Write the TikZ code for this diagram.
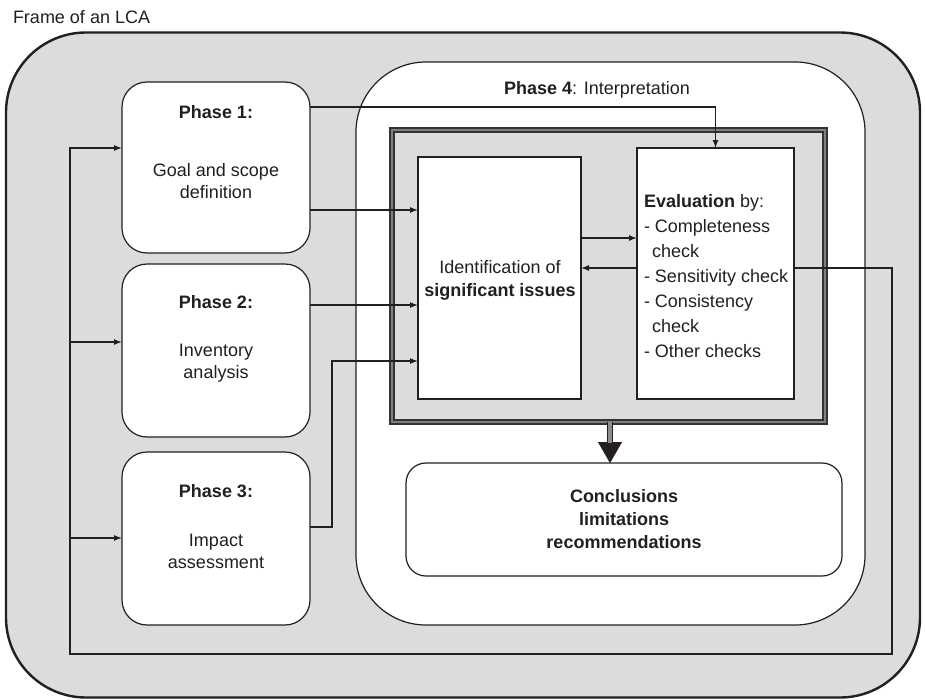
\documentclass[tikz,border=0pt]{standalone}
\usepackage{fontspec}
\setmainfont{Liberation Sans}
\usetikzlibrary{arrows.meta}
\definecolor{ink}{RGB}{35,31,32}
\definecolor{panel}{RGB}{220,220,222}
\begin{document}
\begin{tikzpicture}[x=1pt,y=-1pt,
  every node/.style={inner sep=0pt, outer sep=0pt, text=ink},
  txt/.style={font=\fontsize{18}{22}\selectfont, align=center},
  box/.style={draw=ink, rectangle, line width=1.2pt},
  phasebox/.style={box, fill=white, rounded corners=25pt, minimum width=188pt},
  arr/.style={draw=ink, line width=1.1pt, -{Latex[length=8pt,width=6pt]}},
  wire/.style={draw=ink, line width=1.1pt}]
\useasboundingbox (0,0) rectangle (925,699);

% LCA frame and the four phases
\node[box, line width=2.4pt, fill=panel, rounded corners=80pt,
      minimum width=914pt, minimum height=665pt] (frame) at (463,365) {};
\node[txt, anchor=west] (title) at (13,17) {Frame of an LCA};

\node[box, fill=white, rounded corners=70pt,
      minimum width=509pt, minimum height=563pt] (p4) at (610.5,343.5) {};
\node[txt] (p4t) at (597,90) {\textbf{Phase 4}: Interpretation};

\node[phasebox, minimum height=171pt] (p1) at (216,167.5) {};
\node[phasebox, minimum height=173pt] (p2) at (216,350.5) {};
\node[phasebox, minimum height=173pt] (p3) at (216,538.5) {};

\node[txt, font=\fontsize{18}{22}\selectfont\bfseries] (p1h) at (216,112) {Phase 1:};
\node[txt] (p1t) at (216,181) {Goal and scope\\definition};
\node[txt, font=\fontsize{18}{22}\selectfont\bfseries] (p2h) at (216,302) {Phase 2:};
\node[txt] (p2t) at (216,363) {Inventory\\analysis};
\node[txt, font=\fontsize{18}{22}\selectfont\bfseries] (p3h) at (216,491) {Phase 3:};
\node[txt] (p3t) at (216,551) {Impact\\assessment};

% interpretation core with triple border
\node[rectangle, fill=panel, draw=black!80, line width=1.5pt,
      double=black!50, double distance=2.6pt,
      minimum width=433pt, minimum height=292pt] (tb) at (608.5,276) {};

\node[box, fill=white, minimum width=163pt, minimum height=242pt] (ident) at (499.5,278) {};
\node[txt, font=\fontsize{18}{23}\selectfont] (identt) at (500,280)
  {Identification of\\\textbf{significant issues}};

\node[box, fill=white, minimum width=157pt, minimum height=251pt] (eval) at (715.5,273.5) {};
\node[txt, align=left, anchor=west, font=\fontsize{18}{25}\selectfont] (evalt) at (644,276)
  {\textbf{Evaluation} by:\\
   - Completeness\\
   \hspace*{8pt}check\\
   - Sensitivity check\\
   - Consistency\\
   \hspace*{8pt}check\\
   - Other checks};

\node[box, fill=white, rounded corners=20pt, minimum width=436pt, minimum height=113pt] (concl) at (624,519.5) {};
\node[txt, font=\fontsize{18}{23}\selectfont\bfseries] (conclt) at (624,519)
  {Conclusions\\limitations\\recommendations};

% connector levels
\coordinate (yTop) at (0,107);
\coordinate (yP1) at (0,210);
\coordinate (yP2) at (0,305);
\coordinate (yP3) at (0,527);
\coordinate (bend) at (332,361);
\coordinate (yFwd) at (0,238);
\coordinate (yBack) at (0,268);
\coordinate (loopR) at (892,654);
\coordinate (loopL) at (70,654);
\coordinate (f1) at (0,148);
\coordinate (f2) at (0,342);
\coordinate (f3) at (0,538);
\coordinate (dx) at (610,0);

% phases feeding the interpretation
\draw[arr] (p1.east |- yTop) -| (eval.north);
\draw[arr] (p1.east |- yP1) -- (ident.west |- yP1);
\draw[arr] (p2.east |- yP2) -- (ident.west |- yP2);
\draw[arr] (p3.east |- yP3) -| (bend) -- (ident.west |- bend);

% identification <-> evaluation
\draw[arr] (ident.east |- yFwd) -- (eval.west |- yFwd);
\draw[arr] (eval.west |- yBack) -- (ident.east |- yBack);

% iterative feedback loop back to the phases
\draw[arr] (eval.east |- yBack) -| (loopR) -- (loopL) |- (p1.west |- f1);
\draw[arr] (loopL |- f2) -- (p2.west |- f2);
\draw[arr] (loopL |- f3) -- (p3.west |- f3);

% double arrow to conclusions
\draw[draw=ink, fill=ink, line width=0.4pt, -{Triangle[length=21pt,width=24pt]}]
  (tb.south -| dx) -- (concl.north -| dx);
\draw[draw=ink, line width=1.2pt, double=black!45, double distance=3.4pt, shorten >=20pt]
  (tb.south -| dx) -- (concl.north -| dx);
\end{tikzpicture}
\end{document}
